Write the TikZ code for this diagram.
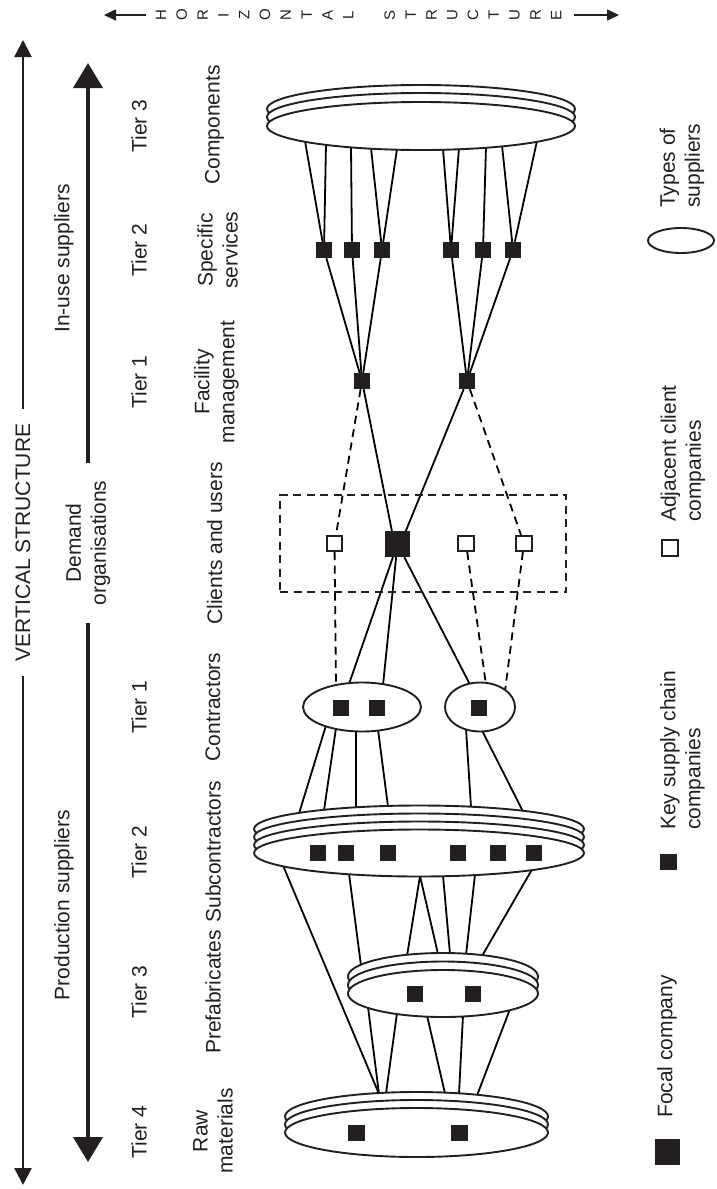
\documentclass[tikz,border=0pt]{standalone}
\usepackage{fontspec}
\setmainfont{Liberation Sans}
\usetikzlibrary{arrows.meta,shapes.geometric}
\pgfdeclarelayer{paper}
\pgfdeclarelayer{links}
\pgfsetlayers{paper,links,main}
\definecolor{ink}{RGB}{35,31,32}

\begin{document}
\begin{tikzpicture}[x=1pt,y=-1pt,color=ink,
  lbl/.style={rotate=90,font=\fontsize{21}{25}\selectfont,inner sep=0pt,align=center},
  legtext/.style={rotate=90,font=\fontsize{21}{25}\selectfont,inner sep=0pt,align=left,anchor=west},
  hsletter/.style={rotate=90,font=\fontsize{15}{15}\selectfont,inner sep=0pt},
  discell/.style={ellipse,draw,fill=white,line width=1.9pt,inner sep=0pt},
  keysq/.style={rectangle,fill=ink,minimum width=16.5pt,minimum height=16pt,inner sep=0pt},
  adjsq/.style={rectangle,draw,fill=white,line width=1.7pt,minimum size=15.5pt,inner sep=0pt},
  focalsq/.style={rectangle,fill=ink,minimum width=25pt,minimum height=26pt,inner sep=0pt},
  link/.style={line width=1.8pt},
  dlink/.style={line width=1.8pt,dash pattern=on 8pt off 5.5pt},
  thinarrow/.style={line width=2.5pt,-{Triangle[width=17pt,length=17pt]}},
  thickarrow/.style={line width=4pt,-{Triangle[width=29pt,length=25pt]}},
  hsarrow/.style={line width=1.6pt,-{Triangle[width=11pt,length=12pt]}},
]
\useasboundingbox (0,0) rectangle (716,1189);
\begin{pgfonlayer}{paper}
  \fill[white] (0,0) rectangle (716,1189);
\end{pgfonlayer}

% ---------- horizontal structure heading (stacked letters) ----------
\foreach \c [count=\i from 0] in {H,O,R,I,Z,O,N,T,A,L}
  \node[hsletter] (hsa\i) at ({161+20.8*\i},15) {\c};
\foreach \c [count=\i from 0] in {S,T,R,U,C,T,U,R,E}
  \node[hsletter] (hsb\i) at ({389.8+20.8*\i},15) {\c};
\coordinate (hsl0) at (104,15);
\coordinate (hsl1) at (146,15);
\coordinate (hsr0) at (574,15);
\coordinate (hsr1) at (619,15);
\draw[hsarrow] (hsl1) -- (hsl0);
\draw[hsarrow] (hsr0) -- (hsr1);

% ---------- vertical structure axis ----------
\node[lbl,inner xsep=14pt] (vs) at (23,542.5) {VERTICAL STRUCTURE};
\coordinate (a1t) at (23,40);
\coordinate (a1b) at (23,1185);
\draw[thinarrow] (vs.east) -- (a1t);
\draw[thinarrow] (vs.west) -- (a1b);

\node[lbl,inner xsep=17pt] (dem) at (88,543) {Demand\\organisations};
\coordinate (a2t) at (88,63);
\coordinate (a2b) at (88,1162);
\draw[thickarrow] (dem.east) -- (a2t);
\draw[thickarrow] (dem.west) -- (a2b);
\node[lbl] (inuse) at (64,258.5) {In-use suppliers};
\node[lbl] (prod) at (64,905) {Production suppliers};

% ---------- tiers ----------
\node[lbl] (t3u) at (139,126) {Tier 3};
\node[lbl] (t2u) at (139,250) {Tier 2};
\node[lbl] (t1u) at (139,382) {Tier 1};
\node[lbl] (t1p) at (139,707) {Tier 1};
\node[lbl] (t2p) at (139,852) {Tier 2};
\node[lbl] (t3p) at (139,992) {Tier 3};
\node[lbl] (t4p) at (139,1132) {Tier 4};

% ---------- supplier types ----------
\node[lbl] (lcomp) at (214.5,125) {Components};
\node[lbl] (lspec) at (217.5,250) {Specific\\services};
\node[lbl] (lfac) at (216.5,382) {Facility\\management};
\node[lbl] (lcli) at (214.5,543.5) {Clients and users};
\node[lbl] (lcon) at (213,707) {Contractors};
\node[lbl] (lsub) at (213,852) {Subcontractors};
\node[lbl] (lpre) at (213,992) {Prefabricates};
\node[lbl] (lraw) at (213,1131) {Raw\\materials};

% ---------- components (in-use tier 3) ----------
\node[discell,minimum width=308pt,minimum height=48pt] (comp3) at (421,109) {};
\node[discell,minimum width=308pt,minimum height=48pt] (comp2) at (421,117) {};
\node[discell,minimum width=308pt,minimum height=48pt] (comp) at (421,126) {};

% specific services
\node[keysq] (s1) at (324,250) {};
\node[keysq] (s2) at (352,250) {};
\node[keysq] (s3) at (382,250) {};
\node[keysq] (s4) at (451,250) {};
\node[keysq] (s5) at (483,250) {};
\node[keysq] (s6) at (513,250) {};

% facility management
\node[keysq] (fL) at (362,381) {};
\node[keysq] (fR) at (467,381) {};

% ---------- demand organisations ----------
\node[draw,dlink,minimum width=286pt,minimum height=97pt,inner sep=0pt] (box) at (423,543.5) {};
\node[focalsq] (focal) at (397.5,544) {};
\node[adjsq] (h1) at (334.5,543.5) {};
\node[adjsq] (h2) at (466,543.5) {};
\node[adjsq] (h3) at (524,543.5) {};

% ---------- contractors ----------
\node[discell,minimum width=118pt,minimum height=49pt] (conL) at (362,707) {};
\node[discell,minimum width=70pt,minimum height=49pt] (conR) at (480,707) {};
\node[keysq] (k1) at (341,708) {};
\node[keysq] (k2) at (377,708) {};
\node[keysq] (k3) at (479,708) {};

% ---------- subcontractors ----------
\node[discell,minimum width=330pt,minimum height=47pt] (sub4) at (419,829) {};
\node[discell,minimum width=330pt,minimum height=47pt] (sub3) at (419,837) {};
\node[discell,minimum width=330pt,minimum height=47pt] (sub2) at (419,845) {};
\node[discell,minimum width=330pt,minimum height=47pt] (sub) at (419,853) {};
\foreach \x [count=\i] in {318,346,388,458,498,534}
  \node[keysq] (b\i) at (\x,853) {};

% ---------- prefabricates ----------
\node[discell,minimum width=190pt,minimum height=47pt] (pre3) at (443,976.5) {};
\node[discell,minimum width=190pt,minimum height=47pt] (pre2) at (443,985) {};
\node[discell,minimum width=190pt,minimum height=47pt] (pre) at (443,993.5) {};
\node[keysq] (m1) at (415,993.5) {};
\node[keysq] (m2) at (473,993.5) {};

% ---------- raw materials ----------
\node[discell,minimum width=263pt,minimum height=49pt] (raw3) at (416.5,1116.5) {};
\node[discell,minimum width=263pt,minimum height=49pt] (raw2) at (416.5,1124.5) {};
\node[discell,minimum width=263pt,minimum height=49pt] (raw) at (416.5,1132.5) {};
\node[keysq] (n1) at (356.5,1132.5) {};
\node[keysq] (n2) at (459.5,1132.5) {};

% ---------- legend ----------
\node[discell,minimum width=66pt,minimum height=25pt] (legell) at (681,240.5) {};
\node[legtext] (legtypes) at (682,208) {Types of\\suppliers};
\node[adjsq] (legadj) at (670,548) {};
\node[legtext] (legadjtxt) at (683,522) {Adjacent client\\companies};
\node[keysq] (legkey) at (668.5,862) {};
\node[legtext] (legkeytxt) at (682.5,830) {Key supply chain\\companies};
\node[focalsq] (legfocal) at (667.5,1151.5) {};
\node[legtext] (legfocaltxt) at (667,1118) {Focal company};

% ---------- attachment points on the supplier discs ----------
\coordinate (cA) at (305,141);
\coordinate (cB) at (326,144);
\coordinate (cC) at (351,146.5);
\coordinate (cD) at (371,148);
\coordinate (cE) at (397,149);
\coordinate (cF) at (443,149);
\coordinate (cG) at (459,148);
\coordinate (cH) at (486,147);
\coordinate (cI) at (502,145.5);
\coordinate (cJ) at (537,141);

\coordinate (t1) at (349,684);
\coordinate (t2) at (383,685);
\coordinate (t3) at (470,684.5);
\coordinate (t4) at (336,686);
\coordinate (t5) at (486,684.5);
\coordinate (t6) at (505,691);

\coordinate (u1) at (326,725.5);
\coordinate (u2) at (336,728);
\coordinate (u3) at (356,730.5);
\coordinate (u4) at (378,729.5);
\coordinate (u5) at (466,728.5);
\coordinate (u6) at (482,730.5);

\coordinate (v1) at (299,813.5);
\coordinate (v2) at (324,810.5);
\coordinate (v3) at (356,808);
\coordinate (v4) at (388,806.5);
\coordinate (v5) at (471,807);
\coordinate (v6) at (523,811.5);

\coordinate (w1) at (283,865.5);
\coordinate (w2) at (349,873.5);
\coordinate (w3) at (420,876);
\coordinate (w4) at (443,875.5);
\coordinate (w5) at (475,874.5);
\coordinate (w6) at (532,869.5);

\coordinate (p1) at (361,965.5);
\coordinate (p2) at (407,956);
\coordinate (p3) at (438,954);
\coordinate (p4) at (450,954);
\coordinate (p5) at (466,955);
\coordinate (p6) at (482,956);

\coordinate (q1) at (368,1007);
\coordinate (q2) at (397,1013);
\coordinate (q3) at (427,1015.5);
\coordinate (q4) at (463,1015.5);
\coordinate (q5) at (510,1009);

\coordinate (r1) at (379,1094);
\coordinate (r2) at (386,1093.5);
\coordinate (r3) at (445,1093.5);
\coordinate (r4) at (459,1094);
\coordinate (r5) at (477,1095.5);

% ---------- connectors ----------
\begin{pgfonlayer}{links}
  % components -> specific services
  \draw[link] (cA) -- (s1);
  \draw[link] (cB) -- (s1);
  \draw[link] (cC) -- (s2);
  \draw[link] (cD) -- (s3);
  \draw[link] (cE) -- (s3);
  \draw[link] (cF) -- (s4);
  \draw[link] (cG) -- (s4);
  \draw[link] (cH) -- (s5);
  \draw[link] (cI) -- (s6);
  \draw[link] (cJ) -- (s6);
  % specific services -> facility management
  \draw[link] (s1) -- (fL);
  \draw[link] (s2) -- (fL);
  \draw[link] (s3) -- (fL);
  \draw[link] (s4) -- (fR);
  \draw[link] (s5) -- (fR);
  \draw[link] (s6) -- (fR);
  % facility management -> clients
  \draw[link] (fL) -- ([xshift=-3pt]focal.center);
  \draw[link] (fR) -- ([xshift=3pt]focal.center);
  \draw[dlink] (fL) -- (h1);
  \draw[dlink] (fR) -- (h3);
  % clients -> contractors
  \draw[link] (focal) -- (t1);
  \draw[link] (focal) -- (t2);
  \draw[link] (focal) -- (t3);
  \draw[dlink] (h1) -- (t4);
  \draw[dlink] (h2) -- (t5);
  \draw[dlink] (h3) -- (t6);
  % contractors -> subcontractors
  \draw[link] (u1) -- (v1);
  \draw[link] (u2) -- (v2);
  \draw[link] (u3) -- (v3);
  \draw[link] (u4) -- (v4);
  \draw[link] (u5) -- (v5);
  \draw[link] (u6) -- (v6);
  % subcontractors -> prefabricates and raw materials
  \draw[link] (w1) -- (r1);
  \draw[link] (w2) -- (p1);
  \draw[link] (w3) -- (p2);
  \draw[link] (w3) -- (p3);
  \draw[link] (w4) -- (p4);
  \draw[link] (w5) -- (p5);
  \draw[link] (w6) -- (p6);
  % prefabricates -> raw materials
  \draw[link] (q1) -- (r1);
  \draw[link] (q2) -- (r2);
  \draw[link] (q3) -- (r3);
  \draw[link] (q4) -- (r4);
  \draw[link] (q5) -- (r5);
\end{pgfonlayer}
\end{tikzpicture}
\end{document}
